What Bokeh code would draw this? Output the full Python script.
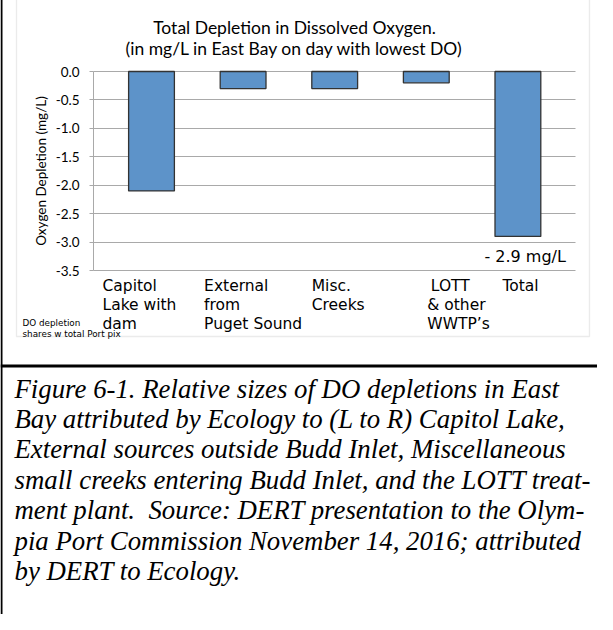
from bokeh.plotting import figure
from bokeh.models import (Range1d, Label, BoxAnnotation, FixedTicker, PrintfTickFormatter,
                          LinearAxis, Grid)
from bokeh.embed import file_html
from bokeh.resources import INLINE

# ---------------- data ----------------
categories = ["Capitol Lake with dam", "External from Puget Sound", "Misc. Creeks",
              "LOTT & other WWTP\u2019s", "Total"]
label_lines = [["Capitol", "Lake with", "dam"],
               ["External", "from", "Puget Sound"],
               ["Misc.", "Creeks"],
               ["LOTT", "& other", "WWTP\u2019s"],
               ["Total"]]
depletion = [-2.1, -0.3, -0.3, -0.2, -2.9]
y_ticks = [0.0, -0.5, -1.0, -1.5, -2.0, -2.5, -3.0, -3.5]
title_lines = ["Total Depletion in Dissolved Oxygen.",
               "(in mg/L in East Bay on day with lowest DO)"]
y_label = "Oxygen Depletion (mg/L)"
note_lines = ["DO depletion", "shares w total Port pix"]
caption_lines = [
    "Figure 6-1. Relative sizes of DO depletions in East",
    "Bay attributed by Ecology to (L to R) Capitol Lake,",
    "External sources outside Budd Inlet, Miscellaneous",
    "small creeks entering Budd Inlet, and the LOTT treat-",
    "ment plant.\u00a0 Source: DERT presentation to the Olym-",
    "pia Port Commission November 14, 2016; attributed",
    "by DERT to Ecology.",
]

# ---------------- layout (canvas pixels) ----------------
W, H = 597, 619
AX_L, AX_R = 93, 575      # plot area left / right
FT, FB = 76, 275          # plot area top (0.0) / bottom (-3.5)
C0, STEP = 151, 91.6      # centre of first category, category spacing
Y_TOP, Y_BOT = max(y_ticks), min(y_ticks)
PX_Y = (FB - FT) / (Y_TOP - Y_BOT)


def cx2x(cx):
    return (cx - C0) / STEP


def cy2y(cy):
    return Y_TOP - (cy - FT) / PX_Y


p = figure(width=W, height=H, min_border=0,
           x_range=Range1d(cx2x(0), cx2x(W)), y_range=Range1d(cy2y(H), cy2y(0)),
           x_axis_type=None, y_axis_type=None,
           output_backend="svg", toolbar_location=None, title=None)
p.styles = {"margin-top": "-5px"}
p.outline_line_color = None
p.background_fill_color = "white"
p.border_fill_color = "white"

GRID = "#a9a9a9"

# gridlines limited to the plot area
grid = Grid(dimension=1, ticker=FixedTicker(ticks=y_ticks),
            bounds=(Y_BOT, Y_TOP), cross_bounds=(cx2x(AX_L), cx2x(AX_R)),
            grid_line_color=GRID, grid_line_width=1)
p.add_layout(grid)

# bars
idx = list(range(len(categories)))
p.vbar(x=idx, top=depletion, bottom=0, width=0.5,
       fill_color="#5d93c9", line_color="#333333", line_width=1.3)

# y axis, pinned at the left edge of the plot area
ya = LinearAxis(fixed_location=cx2x(AX_L), bounds=(Y_BOT, Y_TOP),
                ticker=FixedTicker(ticks=y_ticks),
                formatter=PrintfTickFormatter(format="%.1f"))
ya.axis_line_color = GRID
ya.major_tick_line_color = GRID
ya.major_tick_out = 4
ya.major_tick_in = 0
ya.minor_tick_line_color = None
ya.major_label_standoff = 10
ya.major_label_text_font = "Lato"
ya.major_label_text_font_size = "13.5px"
ya.major_label_text_color = "black"
ya.axis_label = y_label
ya.axis_label_text_font = "Lato"
ya.axis_label_text_font_size = "13.5px"
ya.axis_label_text_font_style = "normal"
ya.axis_label_text_color = "black"
ya.axis_label_standoff = 4
p.add_layout(ya, "left")


def add_text(text, x, y, size, font="Lato", align="left", style="normal"):
    p.add_layout(Label(x=x, y=y, text=text, text_font=font,
                       text_font_size=size, text_align=align,
                       text_baseline="alphabetic", text_font_style=style,
                       text_color="black"))


def box(l, r, t, b, fill=None, line=None, lw=1.0):
    p.add_layout(BoxAnnotation(left=cx2x(l), right=cx2x(r), top=cy2y(t), bottom=cy2y(b),
                               fill_color=fill if fill else "white",
                               fill_alpha=1.0 if fill else 0.0,
                               line_color=line, line_width=lw, level="underlay"))


# decorations: outer black rules, chart frame, divider
box(0, 2, 0, H, fill="black")
box(0, W, 0, 1.6, fill="black")
box(0, W, 369, 372, fill="black")
box(16, 589, 2.2, 341, line="#bdbdbd", lw=1.3)

# title
for k, t in enumerate(title_lines):
    add_text(t, cx2x(294), cy2y(32 + 20.5 * k), "17.5px", align="center")

# category labels below the axis (pixel nudges per line)
LABEL_DX = [[-49, -49, -49], [-39, -39, -39], [-23, -23], [4.5, 1, 1], [-15.5]]
for i, lines in enumerate(label_lines):
    for k, t in enumerate(lines):
        add_text(t, idx[i] + LABEL_DX[i][k] / STEP, cy2y(FB + 15 + 19 * k), "15.5px",
                 font="DejaVu Sans")

# value label of the total
add_text(f"- {abs(depletion[-1])} mg/L", idx[-1] - 33.5 / STEP,
         depletion[-1] - 20.5 / PX_Y, "16px", font="DejaVu Sans")

# small note
for k, t in enumerate(note_lines):
    add_text(t, cx2x(22), cy2y(327 + 11 * k), "8.8px", font="DejaVu Sans")

# caption
for k, t in enumerate(caption_lines):
    add_text(t, cx2x(14), cy2y(393 + 30.4 * k), "26.8px",
             font="Liberation Serif", style="italic")

open("out.html", "w").write(file_html(p, INLINE))
